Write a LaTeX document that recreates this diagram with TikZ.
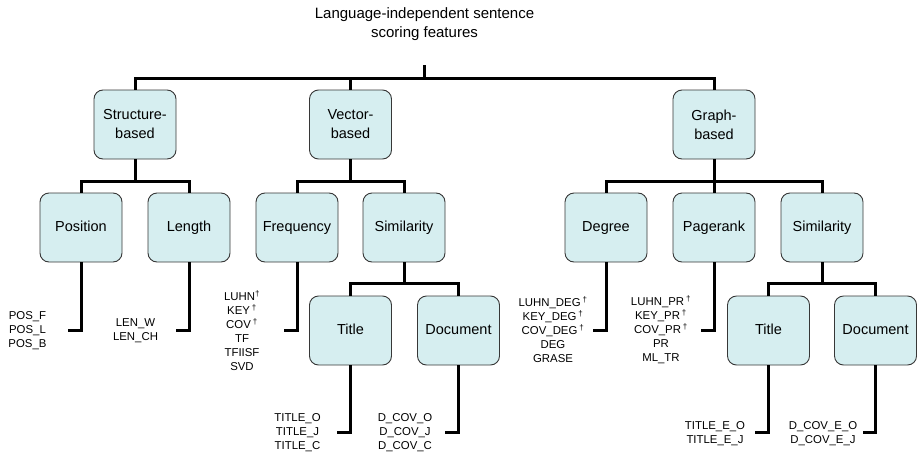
\documentclass[tikz,border=0pt]{standalone}
\usepackage{fontspec}
\setmainfont{Liberation Sans}
\definecolor{boxfill}{RGB}{214,238,240}
\definecolor{boxline}{RGB}{55,55,55}
\begin{document}
\begin{tikzpicture}[x=1pt,y=-1pt,
  box/.style={draw=boxline, line width=0.9pt, fill=boxfill, rounded corners=9pt,
    minimum width=82pt, minimum height=69pt, align=center, inner sep=0pt,
    font=\fontsize{14.5}{19}\selectfont},
  onebox/.style={box, text height=10.5pt, text depth=3pt},
  leaf/.style={align=center, inner sep=0pt, font=\fontsize{11.4}{14}\selectfont},
  conn/.style={line width=3pt, line join=miter}]
\useasboundingbox (0,0) rectangle (917,455);

% root label
\node[align=center, inner sep=0pt, font=\fontsize{15}{19}\selectfont] (root) at (424.5,24.5)
  {Language-independent sentence\\scoring features};
\coordinate (top) at (424.5,65);

% first level
\node[box] (sb) at (135,124.5) {Structure-\\based};
\node[box] (vb) at (350.5,124.5) {Vector-\\based};
\node[box] (gb) at (714,124.5) {Graph-\\based};

% second level
\node[onebox] (pos)  at (81,227.5)  {Position};
\node[onebox] (len)  at (189,227.5) {Length};
\node[onebox] (freq) at (297,227.5) {Frequency};
\node[onebox] (vsim) at (404,227.5) {Similarity};
\node[onebox] (deg)  at (606,227.5) {Degree};
\node[onebox] (pr)   at (714,227.5) {Pagerank};
\node[onebox] (gsim) at (822,227.5) {Similarity};

% third level
\node[onebox] (vtitle) at (350.5,330.5) {Title};
\node[onebox] (vdoc)   at (458.5,330.5) {Document};
\node[onebox] (gtitle) at (768.5,330.5) {Title};
\node[onebox] (gdoc)   at (875.5,330.5) {Document};

% tree connectors
\draw[conn] (top) -- ++(0,14);
\draw[conn] (sb.north) -- ++(0,-11) -| (gb.north);
\draw[conn] (vb.north) -- ++(0,-11);

\draw[conn] (sb.south) -- ++(0,23);
\draw[conn] (pos.north) -- ++(0,-11) -| (len.north);
\draw[conn] (vb.south) -- ++(0,23);
\draw[conn] (freq.north) -- ++(0,-11) -| (vsim.north);
\draw[conn] (gb.south) -- ++(0,23);
\draw[conn] (deg.north) -- ++(0,-11) -| (gsim.north);
\draw[conn] (pr.north) -- ++(0,-11);

\draw[conn] (vsim.south) -- ++(0,22);
\draw[conn] (vtitle.north) -- ++(0,-12) -| (vdoc.north);
\draw[conn] (gsim.south) -- ++(0,22);
\draw[conn] (gtitle.north) -- ++(0,-12) -| (gdoc.north);

% feature lists
\node[leaf] (posl)  at (27.5,331)  {POS\_F\\POS\_L\\POS\_B};
\node[leaf] (lenl)  at (135.5,331) {LEN\_W\\LEN\_CH};
\node[leaf] (freql) at (242,331)   {LUHN\textsuperscript{†}\\KEY\,\textsuperscript{†}\\COV\,\textsuperscript{†}\\TF\\TFIISF\\SVD};
\node[leaf] (degl)  at (553,330)   {LUHN\_DEG\,\textsuperscript{†}\\KEY\_DEG\,\textsuperscript{†}\\COV\_DEG\,\textsuperscript{†}\\DEG\\GRASE};
\node[leaf] (prl)   at (661,330)   {LUHN\_PR\,\textsuperscript{†}\\KEY\_PR\,\textsuperscript{†}\\COV\_PR\,\textsuperscript{†}\\PR\\ML\_TR};
\node[leaf] (vtl)   at (297.5,433) {TITLE\_O\\TITLE\_J\\TITLE\_C};
\node[leaf] (vdl)   at (405,433)   {D\_COV\_O\\D\_COV\_J\\D\_COV\_C};
\node[leaf] (gtl)   at (715,434)   {TITLE\_E\_O\\TITLE\_E\_J};
\node[leaf] (gdl)   at (823,434)   {D\_COV\_E\_O\\D\_COV\_E\_J};

% arm ends next to the lists
\coordinate (posarm)  at (68,330);
\coordinate (lenarm)  at (176,330);
\coordinate (freqarm) at (284,330);
\coordinate (degarm)  at (593,330);
\coordinate (prarm)   at (701,330);
\coordinate (vtarm)   at (337,432);
\coordinate (vdarm)   at (445,432);
\coordinate (gtarm)   at (755,432);
\coordinate (gdarm)   at (863,432);

\draw[conn] (pos.south) |- (posarm);
\draw[conn] (len.south) |- (lenarm);
\draw[conn] (freq.south) |- (freqarm);
\draw[conn] (deg.south) |- (degarm);
\draw[conn] (pr.south) |- (prarm);
\draw[conn] (vtitle.south) |- (vtarm);
\draw[conn] (vdoc.south) |- (vdarm);
\draw[conn] (gtitle.south) |- (gtarm);
\draw[conn] (gdoc.south) |- (gdarm);
\end{tikzpicture}
\end{document}
